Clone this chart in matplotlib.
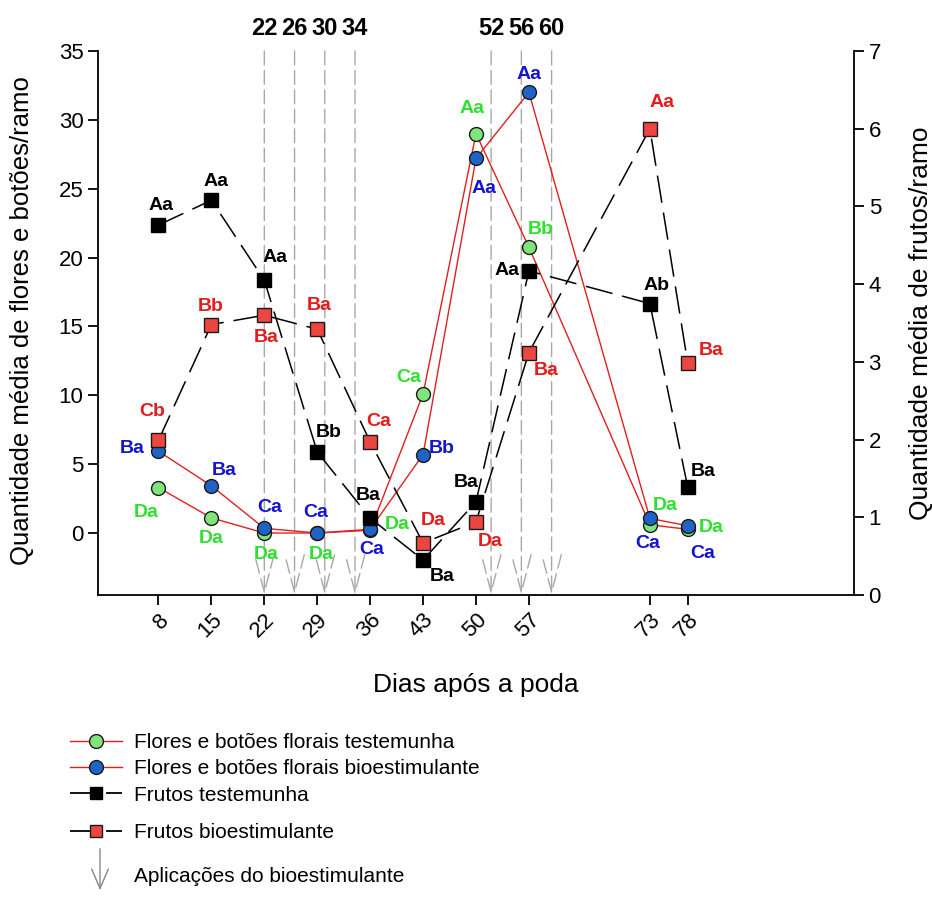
import matplotlib
matplotlib.use("Agg")
import matplotlib.pyplot as plt
from matplotlib.lines import Line2D
from matplotlib.patches import FancyArrowPatch

plt.rcParams['font.family'] = ['Liberation Sans', 'DejaVu Sans']

# ---------------- data ----------------
dias = [8, 15, 22, 29, 36, 43, 50, 57, 73, 78]
aplicacoes = [22, 26, 30, 34, 52, 56, 60]

flores_test = [3.3, 1.1, 0.0, 0.0, 0.2, 10.1, 29.0, 20.75, 0.6, 0.27]
flores_bio = [5.94, 3.43, 0.34, 0.0, 0.27, 5.7, 27.2, 32.0, 1.06, 0.53]
frutos_test = [4.76, 5.08, 4.05, 1.84, 0.99, 0.45, 1.2, 4.17, 3.75, 1.39]
frutos_bio = [1.99, 3.48, 3.6, 3.42, 1.97, 0.67, 0.94, 3.12, 6.0, 2.99]

lab_flores_test = ["Da", "Da", "Da", "Da", "Da", "Ca", "Aa", "Bb", "Da", "Da"]
lab_flores_bio = ["Ba", "Ba", "Ca", "Ca", "Ca", "Bb", "Aa", "Aa", "Ca", "Ca"]
lab_frutos_test = ["Aa", "Aa", "Aa", "Bb", "Ba", "Ba", "Ba", "Aa", "Ab", "Ba"]
lab_frutos_bio = ["Cb", "Bb", "Ba", "Ba", "Ca", "Da", "Da", "Ba", "Aa", "Ba"]

# label offsets in pixels (style/position only)
off_flores_test = [(-12, -25), (0, -21), (2, -21), (4, -21), (27, 6), (-14, 16),
                   (-4, 25), (12, 18), (15, 19), (24, 2)]
off_flores_bio = [(-26, 3), (13, 15), (5, 21), (-2, 21), (2, -20), (19, 6),
                  (8, -30), (0, 18), (-2, -25), (15, -28)]
off_frutos_test = [(3, 20), (5, 19), (11, 23), (11, 20), (-2, 23), (19, -16),
                   (-10, 19), (-22, 0), (7, 18), (16, 15)]
off_frutos_bio = [(-6, 29), (-1, 18), (2, -22), (2, 24), (9, 20), (10, 22),
                  (14, -20), (17, -18), (12, 26), (24, 12)]

# ---------------- colours ----------------
c_green_fill = '#7fe57a'
c_blue_fill = '#1f63c6'
c_red_fill = '#ec4640'
c_green_txt = '#30e030'
c_blue_txt = '#1414d2'
c_red_txt = '#e41c1c'
c_line_red = '#e02020'
c_gray = '#a8a8a8'

fig = plt.figure(figsize=(9.32, 9.00), dpi=100)
W, H = 932, 900
ax = fig.add_axes([98 / W, 1 - 595 / H, (854 - 98) / W, (595 - 51) / H])
ax2 = ax.twinx()

ax.set_xlim(0, 100)
ax.set_ylim(-4.5, 35)
ax2.set_ylim(0, 7)

dash = (0, (18, 6.5))

# flowers (left axis)
ax.plot(dias, flores_test, color=c_line_red, lw=1.0, marker='o', ms=10,
        mfc=c_green_fill, mec='#1a1a1a', mew=1.0, zorder=3)
ax.plot(dias, flores_bio, color=c_line_red, lw=1.0, marker='o', ms=10,
        mfc=c_blue_fill, mec='#1a1a1a', mew=1.0, zorder=4)

# fruits (right axis)
ax2.plot(dias, frutos_test, color='black', lw=1.1, ls=dash, marker='s', ms=9.5,
         mfc='black', mec='black', zorder=3)
ax2.plot(dias, frutos_bio, color='black', lw=1.1, ls=dash, marker='s', ms=9.5,
         mfc=c_red_fill, mec='#1a1a1a', mew=1.0, zorder=4)

# application lines with arrows
for d in aplicacoes:
    ax.annotate('', xy=(d, 0), xytext=(d, 1), xycoords=ax.get_xaxis_transform(),
                textcoords=ax.get_xaxis_transform(),
                arrowprops=dict(arrowstyle='->,head_length=2.7,head_width=0.7',
                                color=c_gray, lw=1.0, linestyle=(0, (10, 4)),
                                shrinkA=0, shrinkB=0), zorder=1)
    ax.text(d, 1.02, str(d), transform=ax.get_xaxis_transform(), ha='center',
            va='bottom', fontsize=17, fontweight='bold')

# labels
def put_labels(a, xs, ys, labs, offs, color):
    for x, y, t, (dx, dy) in zip(xs, ys, labs, offs):
        a.annotate(t, xy=(x, y), xytext=(dx, dy), textcoords='offset pixels',
                   ha='center', va='center', fontsize=14, fontweight='bold',
                   color=color, zorder=6)

put_labels(ax, dias, flores_test, lab_flores_test, off_flores_test, c_green_txt)
put_labels(ax, dias, flores_bio, lab_flores_bio, off_flores_bio, c_blue_txt)
put_labels(ax2, dias, frutos_test, lab_frutos_test, off_frutos_test, 'black')
put_labels(ax2, dias, frutos_bio, lab_frutos_bio, off_frutos_bio, c_red_txt)

# axes styling
for a in (ax, ax2):
    a.spines['top'].set_visible(False)
    for s in ('left', 'right', 'bottom'):
        a.spines[s].set_linewidth(1.3)
ax.spines['right'].set_visible(False)
ax2.spines['left'].set_visible(False)
ax2.spines['bottom'].set_visible(False)

ax.set_yticks([0, 5, 10, 15, 20, 25, 30, 35])
ax2.set_yticks([0, 1, 2, 3, 4, 5, 6, 7])
ax.set_xticks(dias)
ax.set_xticklabels([str(d) for d in dias], rotation=45, ha='right',
                   rotation_mode='anchor')
ax.tick_params(axis='both', labelsize=16, direction='out', length=7, width=1.3)
ax2.tick_params(axis='y', labelsize=16, direction='out', length=7, width=1.3)

ax.set_xlabel('Dias após a poda', fontsize=19, labelpad=22)
ax.set_ylabel('Quantidade média de flores e botões/ramo', fontsize=18.5)
ax.yaxis.set_label_coords(-0.084, 0.504)
ax2.set_ylabel('Quantidade média de frutos/ramo', fontsize=19, labelpad=20)

# legend
leg_kw = dict(frameon=False, fontsize=15, handlelength=2.5, handletextpad=0.55,
              labelspacing=0.35, borderaxespad=0, borderpad=0)
handles1 = [
    Line2D([], [], color=c_line_red, lw=1.0, marker='o', ms=10,
           mfc=c_green_fill, mec='#1a1a1a'),
    Line2D([], [], color=c_line_red, lw=1.0, marker='o', ms=10,
           mfc=c_blue_fill, mec='#1a1a1a'),
    Line2D([], [], color='black', lw=1.3, ls=(0, (14, 6)), marker='s', ms=9,
           mfc='black', mec='black'),
]
labels1 = ['Flores e botões florais testemunha',
           'Flores e botões florais bioestimulante',
           'Frutos testemunha']
handles2 = [Line2D([], [], color='black', lw=1.3, ls=(0, (14, 6)), marker='s',
                   ms=9, mfc=c_red_fill, mec='#1a1a1a')]
labels2 = ['Frutos bioestimulante']
fig.legend(handles1, labels1, loc='upper left',
           bbox_to_anchor=(70 / W, 1 - 733 / H), **leg_kw)
fig.legend(handles2, labels2, loc='upper left',
           bbox_to_anchor=(70 / W, 1 - 823 / H), **leg_kw)

# arrow legend entry
fig.patches.append(FancyArrowPatch(
    (100 / W, 1 - 846 / H), (100 / W, 1 - 893 / H), transform=fig.transFigure,
    arrowstyle='->,head_length=1.4,head_width=0.6', color='#888888', lw=1.0,
    mutation_scale=10))
fig.text(134 / W, 1 - 876 / H, 'Aplicações do bioestimulante', fontsize=15,
         ha='left', va='center')

fig.savefig('out.png', dpi=100)
